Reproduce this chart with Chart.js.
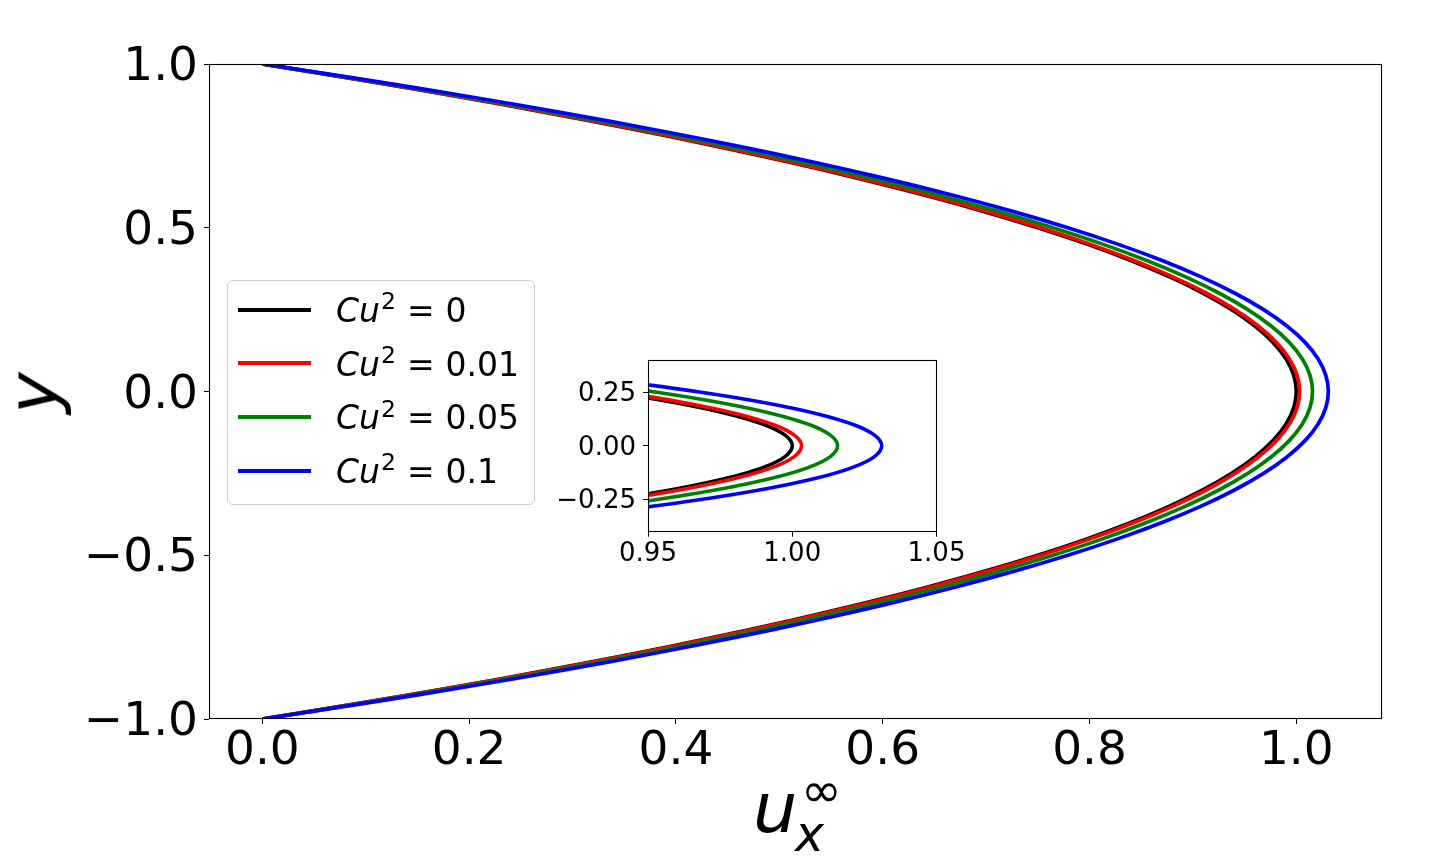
<!DOCTYPE html>
<html>
<head>
<meta charset="utf-8">
<script src="https://cdn.jsdelivr.net/npm/chart.js@4.4.1/dist/chart.umd.min.js"></script>
<style>
html,body{margin:0;padding:0;background:#fff;}
#wrap{position:relative;width:1440px;height:856px;overflow:hidden;font-family:'DejaVu Sans';background:#fff;}
canvas{position:absolute;}
#main{left:0;top:0;width:1440px;height:856px;}
#inset{left:540px;top:340px;width:440px;height:240px;}
.t{position:absolute;white-space:nowrap;color:#000;line-height:1;font-family:'DejaVu Sans';}
#legend{position:absolute;left:226.5px;top:279.5px;width:306.5px;height:223.5px;border:1px solid #cccccc;border-radius:6px;background:rgba(255,255,255,0.8);}
.sw{position:absolute;left:238.3px;width:72.4px;height:4px;}
.lt{font-size:33px;}
.lt i{font-style:italic;}
.sup{font-size:23.5px;position:relative;top:-12.8px;margin-left:1px;}
.eq{margin:0 11px;}
</style>
</head>
<body>
<div id="wrap">
  <canvas id="main" width="1440" height="856"></canvas>
  <div id="legend"></div>
  <canvas id="inset" width="440" height="240"></canvas>
  <div class="t" id="ylab" style="left:33px;top:393px;font-size:70px;font-style:italic;transform:translate(-50%,-50%) rotate(-90deg);height:70px;">y</div>
  <div class="t" style="left:753px;top:772.8px;font-size:70px;font-style:italic;">u</div>
  <div class="t" style="left:795px;top:810.2px;font-size:49px;font-style:italic;">x</div>
  <div class="t" style="left:801px;top:765.5px;font-size:49px;">∞</div>
</div>
<script>
// ---- data ----
const yValues = [1.00,0.95,0.90,0.85,0.80,0.75,0.70,0.65,0.60,0.55,0.50,0.45,0.40,0.35,0.30,0.25,0.20,0.15,0.10,0.05,0.00,
                 -0.05,-0.10,-0.15,-0.20,-0.25,-0.30,-0.35,-0.40,-0.45,-0.50,-0.55,-0.60,-0.65,-0.70,-0.75,-0.80,-0.85,-0.90,-0.95,-1.00];
const uCu0   = [0,0.0975,0.19,0.2775,0.36,0.4375,0.51,0.5775,0.64,0.6975,0.75,0.7975,0.84,0.8775,0.91,0.9375,0.96,0.9775,0.99,0.9975,1.0,
                0.9975,0.99,0.9775,0.96,0.9375,0.91,0.8775,0.84,0.7975,0.75,0.6975,0.64,0.5775,0.51,0.4375,0.36,0.2775,0.19,0.0975,0];
const uCu001 = [0,0.0981,0.1911,0.2790,0.3619,0.4397,0.5124,0.5801,0.6428,0.7004,0.7530,0.8006,0.8431,0.8807,0.9132,0.9407,0.9632,0.9807,0.9932,1.0007,1.0032,
                1.0007,0.9932,0.9807,0.9632,0.9407,0.9132,0.8807,0.8431,0.8006,0.7530,0.7004,0.6428,0.5801,0.5124,0.4397,0.3619,0.2790,0.1911,0.0981,0];
const uCu005 = [0,0.1004,0.1954,0.2850,0.3693,0.4482,0.5219,0.5904,0.6537,0.7118,0.7647,0.8126,0.8553,0.8930,0.9256,0.9531,0.9757,0.9932,1.0057,1.0132,1.0157,
                1.0132,1.0057,0.9932,0.9757,0.9531,0.9256,0.8930,0.8553,0.8126,0.7647,0.7118,0.6537,0.5904,0.5219,0.4482,0.3693,0.2850,0.1954,0.1004,0];
const uCu01  = [0,0.1033,0.2007,0.2923,0.3783,0.4587,0.5336,0.6030,0.6670,0.7257,0.7791,0.8272,0.8702,0.9080,0.9407,0.9684,0.9910,1.0085,1.0210,1.0285,1.0310,
                1.0285,1.0210,1.0085,0.9910,0.9684,0.9407,0.9080,0.8702,0.8272,0.7791,0.7257,0.6670,0.6030,0.5336,0.4587,0.3783,0.2923,0.2007,0.1033,0];
const cuValues = ['0','0.01','0.05','0.1'];
const seriesColors = ['#000000','#ff0000','#008000','#0000ff'];
const mainXTicks = [0,0.2,0.4,0.6,0.8,1.0];
const mainYTicks = [-1,-0.5,0,0.5,1];
const insetXTicks = [0.95,1.00,1.05];
const insetYTicks = [-0.25,0,0.25];

const allSeries = [uCu0,uCu001,uCu005,uCu01];

function fmt(v,d){ const s=Math.abs(v).toFixed(d); return (v < -1e-9 ? '\u2212' : '') + s; }

function makeDatasets(width){
  return allSeries.map((u,i)=>({
    label: 'Cu^2 = ' + cuValues[i],
    data: u.map((x,k)=>({x:x,y:yValues[k]})),
    showLine:true, borderColor:seriesColors[i], backgroundColor:seriesColors[i],
    borderWidth:width, pointRadius:0, pointHoverRadius:0, tension:0.4, fill:false,
    order: allSeries.length - i
  }));
}

const framePlugin = {
  id:'frame',
  beforeDraw(chart, args, opts){
    if (opts.fillArea){
      const a=chart.chartArea, c=chart.ctx;
      c.save(); c.fillStyle='#fff'; c.fillRect(a.left,a.top,a.right-a.left,a.bottom-a.top); c.restore();
    }
  },
  afterDatasetsDraw(chart){
    const a=chart.chartArea, c=chart.ctx;
    c.save(); c.strokeStyle='#000'; c.lineWidth=1.1;
    c.strokeRect(Math.round(a.left)+0.5, Math.round(a.top)+0.5, Math.round(a.right-a.left)-1, Math.round(a.bottom-a.top)-1);
    c.restore();
  }
};

function axisOpts(min,max,ticks,fontSize,digits,pad,offset,fitFn){
  return {
    type:'linear', min:min, max:max,
    afterBuildTicks(s){ s.ticks = ticks.map(v=>({value:v})); },
    afterFit: fitFn,
    grid:{display:true, drawOnChartArea:false, drawTicks:true, tickLength:5, color:'#000', lineWidth:1},
    border:{display:false},
    ticks:{color:'#000', padding:pad, labelOffset:offset, maxRotation:0, autoSkip:false,
           font:{family:'DejaVu Sans', size:fontSize, lineHeight:1},
           callback:(v)=>fmt(v,digits)}
  };
}

Chart.defaults.font.family = 'DejaVu Sans';

new Chart(document.getElementById('main'), {
  type:'scatter',
  data:{datasets:makeDatasets(3.7)},
  options:{
    responsive:false, animation:false, devicePixelRatio:1,
    layout:{padding:{top:64, right:58, left:0, bottom:0}},
    elements:{line:{capBezierPoints:false}},
    plugins:{legend:{display:false}, tooltip:{enabled:false}, frame:{fillArea:false}},
    scales:{
      x: axisOpts(-0.0516,1.0829,mainXTicks,47,1,4,0,(s)=>{s.height=137;}),
      y: axisOpts(-1,1,mainYTicks,47,1,6,4,(s)=>{s.width=209;})
    }
  },
  plugins:[framePlugin]
});

new Chart(document.getElementById('inset'), {
  type:'scatter',
  data:{datasets:makeDatasets(3.6)},
  options:{
    responsive:false, animation:false, devicePixelRatio:1,
    layout:{padding:{top:20, right:43.5, left:0, bottom:0}},
    elements:{line:{capBezierPoints:false}},
    plugins:{legend:{display:false}, tooltip:{enabled:false}, frame:{fillArea:true}},
    scales:{
      x: axisOpts(0.95,1.05,insetXTicks,26,2,5,0,(s)=>{s.height=48.3;}),
      y: axisOpts(-0.4,0.4,insetYTicks,26,2,7,2,(s)=>{s.width=108;})
    }
  },
  plugins:[framePlugin]
});

// legend (HTML text)
const wrap = document.getElementById('wrap');
cuValues.forEach((v,i)=>{
  const yc = 309.5 + i*53.7;
  const sw = document.createElement('div');
  sw.className='sw'; sw.style.top=(yc-2)+'px'; sw.style.background=seriesColors[i];
  wrap.appendChild(sw);
  const t = document.createElement('div');
  t.className='t lt'; t.style.left='336px'; t.style.top=(yc-15.5)+'px';
  t.innerHTML = '<i>Cu</i><span class="sup">2</span><span class="eq">=</span>' + v;
  wrap.appendChild(t);
});
</script>
</body>
</html>
